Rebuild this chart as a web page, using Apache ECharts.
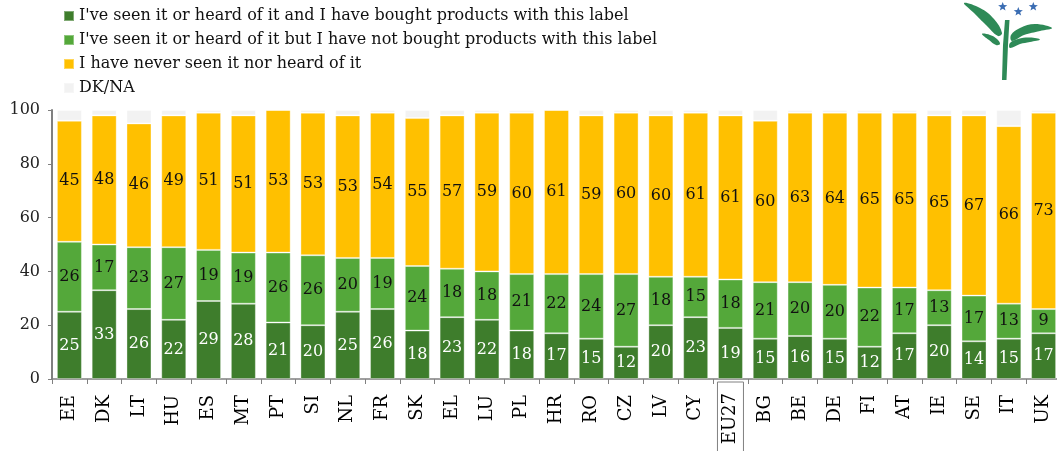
<!DOCTYPE html>
<html>
<head>
<meta charset="utf-8">
<script src="https://cdn.jsdelivr.net/npm/echarts@6/dist/echarts.min.js"></script>
<style>
html,body{margin:0;padding:0;background:#fff;}
#c{width:1057px;height:451px;}
</style>
</head>
<body>
<div id="c"></div>
<script>
const categories = ['EE','DK','LT','HU','ES','MT','PT','SI','NL','FR','SK','EL','LU','PL','HR','RO','CZ','LV','CY','EU27','BG','BE','DE','FI','AT','IE','SE','IT','UK'];
const boughtValues   = [25,33,26,22,29,28,21,20,25,26,18,23,22,18,17,15,12,20,23,19,15,16,15,12,17,20,14,15,17];
const notBoughtValues= [26,17,23,27,19,19,26,26,20,19,24,18,18,21,22,24,27,18,15,18,21,20,20,22,17,13,17,13,9];
const neverValues    = [45,48,46,49,51,51,53,53,53,54,55,57,59,60,61,59,60,60,61,61,60,63,64,65,65,65,67,66,73];
const dkValues = categories.map((c,i)=>Math.max(0,100-boughtValues[i]-notBoughtValues[i]-neverValues[i]));
const seriesNames = [
  "I've seen it or heard of it and I have bought products with this label",
  "I've seen it or heard of it but I have not bought products with this label",
  "I have never seen it nor heard of it",
  "DK/NA"
];
const yTicks = [0,20,40,60,80,100];

const chart = echarts.init(document.getElementById('c'));
const serif = 'DejaVu Serif';
function barSeries(name, data, color, labelColor){
  return {
    name, type:'bar', stack:'all', data, barWidth:25,
    itemStyle:{color, borderColor:'rgba(255,255,255,0.35)', borderWidth:1},
    label: labelColor ? {show:true, position:'inside', color:labelColor, fontFamily:serif, fontSize:16} : {show:false},
    emphasis:{disabled:true}
  };
}
const green='#2E8A57';
function star(cx, cy, r){
  const pts=[];
  for(let k=0;k<10;k++){
    const a=-Math.PI/2 + k*Math.PI/5;
    const rr = k%2===0 ? r : r*0.42;
    pts.push([cx+rr*Math.cos(a), cy+rr*Math.sin(a)]);
  }
  return {type:'polygon', shape:{points:pts}, style:{fill:'#3B6DB3'}, silent:true};
}
function leaf(points){ return {type:'polygon', shape:{points, smooth:0.4}, style:{fill:green}, silent:true}; }
chart.setOption({
  animation:false,
  legend:{
    orient:'vertical', left:63, top:8, padding:0, itemWidth:10, itemHeight:10, itemGap:8,
    icon:'rect',
    textStyle:{fontFamily:serif, fontSize:16, color:'#111', lineHeight:16},
    data:seriesNames
  },
  grid:{left:52, top:110, height:269, width:1009, outerBoundsMode:'none', containLabel:false},
  xAxis:{
    type:'category', data:categories,
    axisLine:{lineStyle:{color:'#808080', width:1.5}},
    axisTick:{show:true, length:5, lineStyle:{color:'#808080'}},
    axisLabel:{
      rotate:90, margin:3, interval:0,
      formatter:(v)=> v==='EU27' ? '{b|'+v+'}' : '{a|'+v+'}',
      rich:{
        a:{fontFamily:serif, fontSize:18, color:'#000', padding:[0,13,0,0]},
        b:{fontFamily:serif, fontSize:18, color:'#000', padding:[4,11,4,16], borderColor:'#808080', borderWidth:1}
      }
    }
  },
  yAxis:{
    type:'value', min:0, max:100, interval:20,
    axisLine:{show:true, lineStyle:{color:'#808080', width:2}},
    axisTick:{show:true, length:4, lineStyle:{color:'#808080'}},
    splitLine:{show:false},
    axisLabel:{fontFamily:serif, fontSize:16, color:'#222', margin:12,
      formatter:(v)=> yTicks.includes(v) ? String(v) : ''}
  },
  series:[
    barSeries(seriesNames[0], boughtValues, '#3E7D2C', '#fff'),
    barSeries(seriesNames[1], notBoughtValues, '#54A83A', '#111'),
    barSeries(seriesNames[2], neverValues, '#FFC000', '#111'),
    barSeries(seriesNames[3], dkValues, '#F2F2F2', null)
  ],
  graphic:[
    leaf([[964,3],[980,8],[994,19],[1002,33],[998,36],[986,25],[974,13]]),
    leaf([[982,34],[990,35],[997,39],[1000,44],[996,45],[989,40]]),
    {type:'polygon', shape:{points:[[1005,20],[1009.5,20],[1008,45],[1006.5,80],[1002,80],[1003,45]]}, style:{fill:green}, silent:true},
    leaf([[1011,35],[1020,28],[1035,24],[1052,28],[1040,31],[1024,35],[1012,41]]),
    leaf([[1010,43],[1018,39],[1030,37.5],[1040,39.5],[1030,42],[1020,44],[1010,48]]),
    star(1002.7,6.7,4.8),
    star(1018.3,11.7,4.8),
    star(1033.3,6.7,4.8)
  ]
});
</script>
</body>
</html>
